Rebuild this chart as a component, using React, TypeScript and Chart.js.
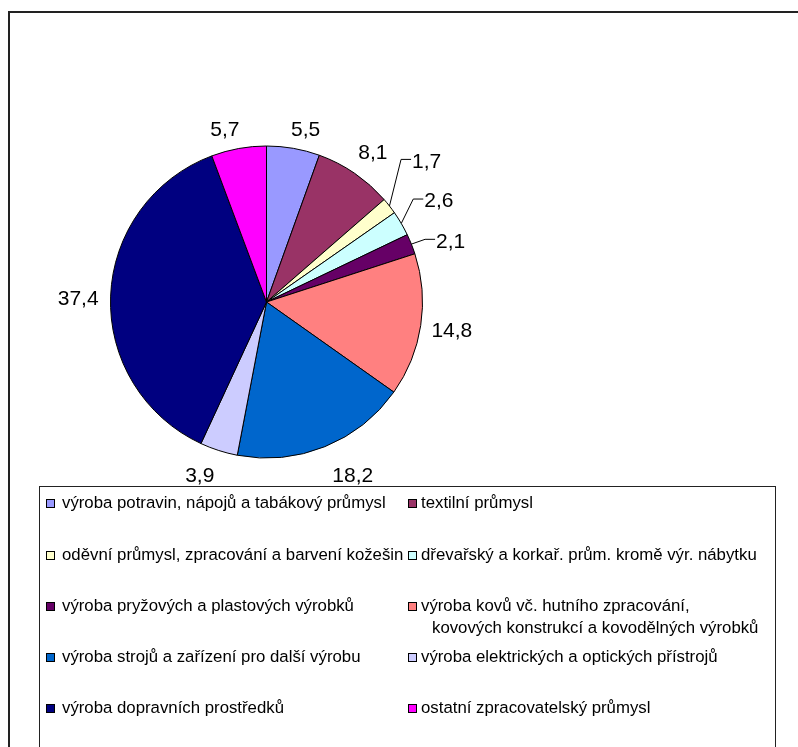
import React, { useEffect, useRef } from "react";
import { Chart, registerables } from "chart.js";

Chart.register(...registerables);

const categories: string[] = [
  "výroba potravin, nápojů a tabákový průmysl",
  "textilní průmysl",
  "oděvní průmysl, zpracování a barvení kožešin",
  "dřevařský a korkař. prům. kromě výr. nábytku",
  "výroba pryžových a plastových výrobků",
  "výroba kovů vč. hutního zpracování,\nkovových konstrukcí a kovodělných výrobků",
  "výroba strojů a zařízení pro další výrobu",
  "výroba elektrických a optických přístrojů",
  "výroba dopravních prostředků",
  "ostatní zpracovatelský průmysl",
];

const values: number[] = [5.5, 8.1, 1.7, 2.6, 2.1, 14.8, 18.2, 3.9, 37.4, 5.7];

const colors: string[] = [
  "#9999FF",
  "#993366",
  "#FFFFCC",
  "#CCFFFF",
  "#660066",
  "#FF8080",
  "#0066CC",
  "#CCCCFF",
  "#000080",
  "#FF00FF",
];

const valueLabels: string[] = values.map((v) => v.toFixed(1).replace(".", ","));

// label placement tweaks (px)
const labelNudge: [number, number][] = [
  [8, 0],
  [4.4, -5.3],
  [0, 0],
  [0, 0],
  [0, 0],
  [1, 0.7],
  [16.5, 9.3],
  [-11.5, 5],
  [-2, 2],
  [-9.5, 0],
];
const leaderElbow: ([number, number] | null)[] = [
  null,
  null,
  [11.6, -46.6],
  [12, -24.4],
  [13.7, -4.8],
  null,
  null,
  null,
  null,
  null,
];

const LABEL_SIZE = 21;
const LABEL_FONT = `${LABEL_SIZE}px "Liberation Sans", Arial, sans-serif`;
const DIGIT_HALF = 0.358 * LABEL_SIZE;

const labelPlugin = {
  id: "pieLabels",
  afterDraw(chart: any) {
    const ctx: CanvasRenderingContext2D = chart.ctx;
    const meta = chart.getDatasetMeta(0);
    ctx.save();
    ctx.font = LABEL_FONT;
    ctx.fillStyle = "#000";
    ctx.strokeStyle = "#000";
    ctx.lineWidth = 1;
    ctx.textBaseline = "alphabetic";
    meta.data.forEach((arc: any, i: number) => {
      const { x, y, startAngle, endAngle, outerRadius } = arc.getProps(
        ["x", "y", "startAngle", "endAngle", "outerRadius"],
        true
      );
      const mid = (startAngle + endAngle) / 2;
      const ux = Math.cos(mid);
      const uy = Math.sin(mid);
      const text = valueLabels[i];
      const w = ctx.measureText(text).width;
      const elbow = leaderElbow[i];
      if (elbow) {
        const ex = x + outerRadius * ux;
        const ey = y + outerRadius * uy;
        const bx = ex + elbow[0];
        const by = ey + elbow[1];
        ctx.beginPath();
        ctx.moveTo(ex, ey);
        ctx.lineTo(bx, by);
        ctx.lineTo(bx + 10, by);
        ctx.stroke();
        ctx.textAlign = "left";
        ctx.fillText(text, bx + 11, by + 0.7 + DIGIT_HALF);
      } else {
        const d = outerRadius + 10;
        const cx = x + d * ux + (w / 2) * ux + labelNudge[i][0];
        const cy = y + d * uy + 10 * uy + labelNudge[i][1];
        ctx.textAlign = "center";
        ctx.fillText(text, cx, cy + DIGIT_HALF);
      }
    });
    ctx.restore();
  },
};

const legendRows = [503, 555, 606, 657, 708];
const legendCols = [
  { marker: 46, text: 62 },
  { marker: 408, text: 421 },
];

export default function App() {
  const canvasRef = useRef<HTMLCanvasElement | null>(null);

  useEffect(() => {
    document.body.style.margin = "0";
    const canvas = canvasRef.current;
    if (!canvas) return;
    const chart = new Chart(canvas, {
      type: "pie",
      data: {
        labels: categories,
        datasets: [
          {
            data: values,
            backgroundColor: colors,
            borderColor: "#000",
            borderWidth: 1,
            hoverOffset: 0,
          },
        ],
      },
      options: {
        animation: false,
        responsive: false,
        events: [],
        layout: {
          padding: { left: 110, right: 375, top: 145.5, bottom: 33.5 },
        },
        plugins: {
          legend: { display: false },
          tooltip: { enabled: false },
        },
      },
      plugins: [labelPlugin],
    });
    return () => chart.destroy();
  }, []);

  const font = '16.8px "Liberation Sans", Arial, sans-serif';

  return (
    <div
      style={{
        position: "relative",
        width: 798,
        height: 747,
        overflow: "hidden",
        background: "#fff",
      }}
    >
      <div
        style={{
          position: "absolute",
          left: 8,
          top: 11,
          width: 820,
          height: 800,
          borderTop: "2px solid #222",
          borderLeft: "2px solid #222",
          boxSizing: "border-box",
        }}
      />
      <canvas
        ref={canvasRef}
        width={798}
        height={492}
        style={{ position: "absolute", left: 0, top: 0, width: 798, height: 492 }}
      />
      <div
        style={{
          position: "absolute",
          left: 39,
          top: 486,
          width: 737,
          height: 300,
          border: "1px solid #222",
          boxSizing: "border-box",
        }}
      />
      {categories.map((cat, i) => {
        const col = legendCols[i % 2];
        const cy = legendRows[Math.floor(i / 2)];
        const lines = cat.split("\n");
        return (
          <React.Fragment key={i}>
            <div
              style={{
                position: "absolute",
                left: col.marker,
                top: cy - 4.5,
                width: 9,
                height: 9,
                background: colors[i],
                border: "1px solid #000",
                boxSizing: "border-box",
              }}
            />
            <div
              style={{
                position: "absolute",
                left: col.text,
                top: cy - 11,
                font,
                lineHeight: "22px",
                color: "#000",
                whiteSpace: "nowrap",
              }}
            >
              {lines.map((ln, j) => (
                <div key={j} style={{ paddingLeft: j > 0 ? 11 : 0 }}>
                  {ln}
                </div>
              ))}
            </div>
          </React.Fragment>
        );
      })}
    </div>
  );
}
